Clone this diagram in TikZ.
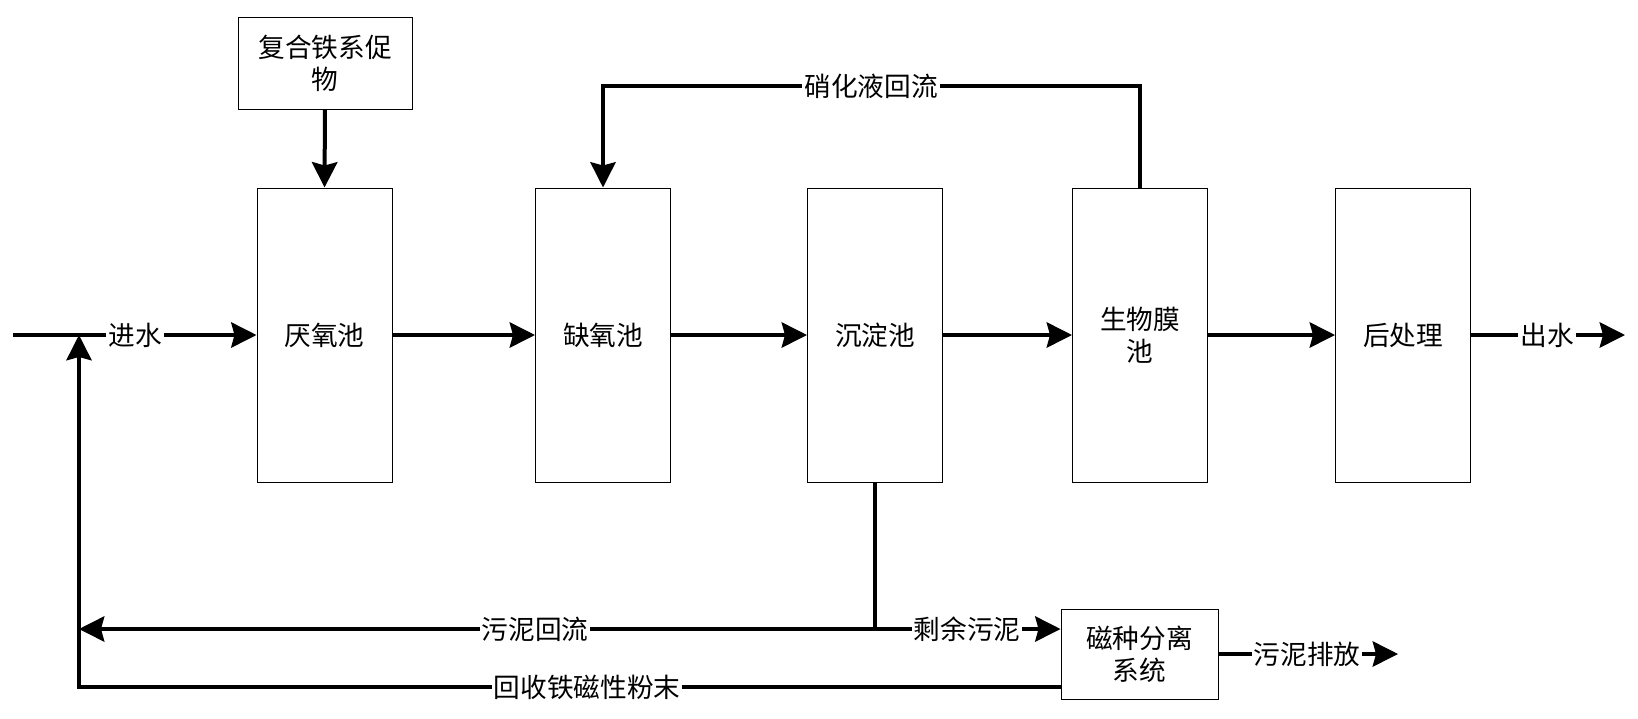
\documentclass[tikz,border=0pt]{standalone}
\usepackage{fontspec}
\newfontfamily\cjk{Noto Sans CJK SC}
\usetikzlibrary{arrows.meta}
\newdimen\pxu
\pxu=0.75pt
\begin{document}
\begin{tikzpicture}[x=0.75pt,y=-0.75pt,
  font=\cjk\fontsize{20}{24}\selectfont,
  box/.style={draw, line width=0.75pt, inner sep=0pt, align=center},
  tank/.style={box, minimum width=135\pxu, minimum height=294\pxu},
  flow/.style={line width=2.4pt, -{Stealth[length=19pt,width=19pt,inset=2.5pt]}},
  plain/.style={line width=2.4pt},
  lbl/.style={fill=white, inner xsep=1.5pt, inner ysep=1pt}]
\useasboundingbox (0,0) rectangle (1638,718);
% boxes
\node[box, minimum width=174\pxu, minimum height=92\pxu] (F) at (325,63) {复合铁系促\\物};
\node[tank] (A) at (324.5,335) {厌氧池};
\node[tank] (B) at (603,335) {缺氧池};
\node[tank] (C) at (875,335) {沉淀池};
\node[tank] (D) at (1140,335) {生物膜\\池};
\node[tank] (E) at (1403,335) {后处理};
\node[box, minimum width=157\pxu, minimum height=90\pxu] (G) at (1139.5,654) {磁种分离\\系统};
% coordinates
\coordinate (in0) at (13,335);
\coordinate (join) at (79,335);
\coordinate (out) at (1625,335);
\coordinate (ntop) at (1140,86);
\coordinate (sj) at (875,629);
\coordinate (ret) at (79,629);
\coordinate (rec) at (1061,687);
\coordinate (dis) at (1398,654);
% main flow
\draw[flow] (in0) -- (A.west);
\draw[flow, line width=3pt] (F.south) -- (A.north);
\draw[flow] (A.east) -- (B.west);
\draw[flow] (B.east) -- (C.west);
\draw[flow] (C.east) -- (D.west);
\draw[flow] (D.east) -- (E.west);
\draw[flow] (E.east) -- (out);
% nitrification recycle
\draw[flow] (D.north) -- (ntop) -| (B.north);
% sludge
\draw[plain] (C.south) -- (sj);
\draw[flow] (sj) -- (ret);
\draw[flow] (sj) -- (sj -| G.west);
\draw[flow] (G.east) -- (dis);
\draw[flow] (rec) -| (join);
% labels
\node[lbl] (l1) at (135,335) {进水};
\node[lbl] (l2) at (1547,335) {出水};
\node[lbl] (l3) at (871,86) {硝化液回流};
\node[lbl] (l4) at (535,629) {污泥回流};
\node[lbl] (l5) at (967,629) {剩余污泥};
\node[lbl] (l6) at (1307,654) {污泥排放};
\node[lbl] (l7) at (587,687) {回收铁磁性粉末};
\end{tikzpicture}
\end{document}
